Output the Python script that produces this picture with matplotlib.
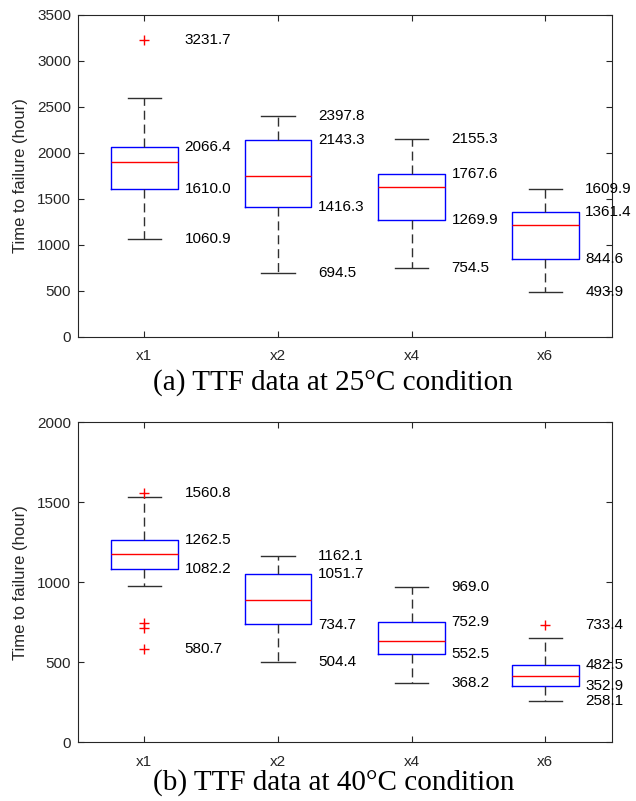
import matplotlib
matplotlib.use("Agg")
import matplotlib.pyplot as plt

categories = ["x1", "x2", "x4", "x6"]

# Panel (a) 25°C
a_lower = [1060.9, 694.5, 754.5, 493.9]
a_q1 = [1610.0, 1416.3, 1269.9, 844.6]
a_median = [1905, 1750, 1625, 1215]
a_q3 = [2066.4, 2143.3, 1767.6, 1361.4]
a_upper = [2600, 2397.8, 2155.3, 1609.9]
a_outliers = [[3231.7], [], [], []]
a_labels = [["3231.7", "2066.4", "1610.0", "1060.9"],
            ["2397.8", "2143.3", "1416.3", "694.5"],
            ["2155.3", "1767.6", "1269.9", "754.5"],
            ["1609.9", "1361.4", "844.6", "493.9"]]
a_label_vals = [[3231.7, 2066.4, 1610.0, 1060.9],
                [2397.8, 2143.3, 1416.3, 694.5],
                [2155.3, 1767.6, 1269.9, 754.5],
                [1609.9, 1361.4, 844.6, 493.9]]

# Panel (b) 40°C
b_lower = [978, 504.4, 368.2, 258.1]
b_q1 = [1082.2, 741, 552.5, 352.9]
b_median = [1175, 888, 633, 414]
b_q3 = [1262.5, 1051.7, 752.9, 482.5]
b_upper = [1530, 1162.1, 969.0, 652]
b_outliers = [[1560.8, 748, 713, 580.7], [], [], [733.4]]
b_labels = [["1560.8", "1262.5", "1082.2", "580.7"],
            ["1162.1", "1051.7", "734.7", "504.4"],
            ["969.0", "752.9", "552.5", "368.2"],
            ["733.4", "482.5", "352.9", "258.1"]]
b_label_vals = [[1560.8, 1262.5, 1082.2, 580.7],
                [1162.1, 1051.7, 734.7, 504.4],
                [969.0, 752.9, 552.5, 368.2],
                [733.4, 482.5, 352.9, 258.1]]

plt.rcParams['font.family'] = ['Liberation Sans', 'DejaVu Sans']

fig = plt.figure(figsize=(6.36, 8.01), dpi=100)

def draw(ax, lower, q1, med, q3, upper, outl, labels, lvals, ymax, yticks):
    stats = []
    for i in range(len(categories)):
        stats.append(dict(med=med[i], q1=q1[i], q3=q3[i], whislo=lower[i],
                          whishi=upper[i], fliers=outl[i], label=categories[i]))
    ax.bxp(stats, positions=[1, 2, 3, 4], widths=0.5, showfliers=True,
           boxprops=dict(color='#0000ff', linewidth=1.0),
           medianprops=dict(color='#ff0000', linewidth=1.0),
           whiskerprops=dict(color='#303030', linewidth=1.0, linestyle=(0, (6.5, 3.5))),
           capprops=dict(color='#303030', linewidth=1.0),
           capwidths=0.25,
           flierprops=dict(marker='+', markeredgecolor='red', markersize=7,
                           linestyle='none', markeredgewidth=1.0))
    for i in range(len(categories)):
        for txt, v in zip(labels[i], lvals[i]):
            ax.text(i + 1 + 0.3, v, txt, ha='left', va='center',
                    fontsize=11, color='black', clip_on=False)
    ax.set_xlim(0.5, 4.5)
    ax.set_ylim(0, ymax)
    ax.set_yticks(yticks)
    ax.set_xticks([1, 2, 3, 4])
    ax.set_xticklabels(categories)
    ax.tick_params(direction='in', top=True, right=True, labelsize=11,
                   colors='#262626', length=4, width=0.8)
    ax.tick_params(axis='x', pad=9)
    ax.tick_params(axis='y', pad=4.5)
    for s in ax.spines.values():
        s.set_color('#262626')
        s.set_linewidth(0.8)
    ax.set_ylabel("Time to failure (hour)", fontsize=12, color='#262626')
    ax.yaxis.set_label_coords(-0.092, 0.5)

ax1 = fig.add_axes([0.1219, 0.5793, 0.8404, 0.402])
draw(ax1, a_lower, a_q1, a_median, a_q3, a_upper, a_outliers, a_labels, a_label_vals,
     3500, list(range(0, 3501, 500)))

ax2 = fig.add_axes([0.1219, 0.0733, 0.8404, 0.3995])
draw(ax2, b_lower, b_q1, b_median, b_q3, b_upper, b_outliers, b_labels, b_label_vals,
     2000, list(range(0, 2001, 500)))

fig.text(0.524, 0.5222, "(a) TTF data at 25°C condition", ha='center', va='center',
         fontsize=21, family='Liberation Serif', color='black')
fig.text(0.524, 0.0228, "(b) TTF data at 40°C condition", ha='center', va='center',
         fontsize=21, family='Liberation Serif', color='black')

fig.savefig("out.png", dpi=100)
